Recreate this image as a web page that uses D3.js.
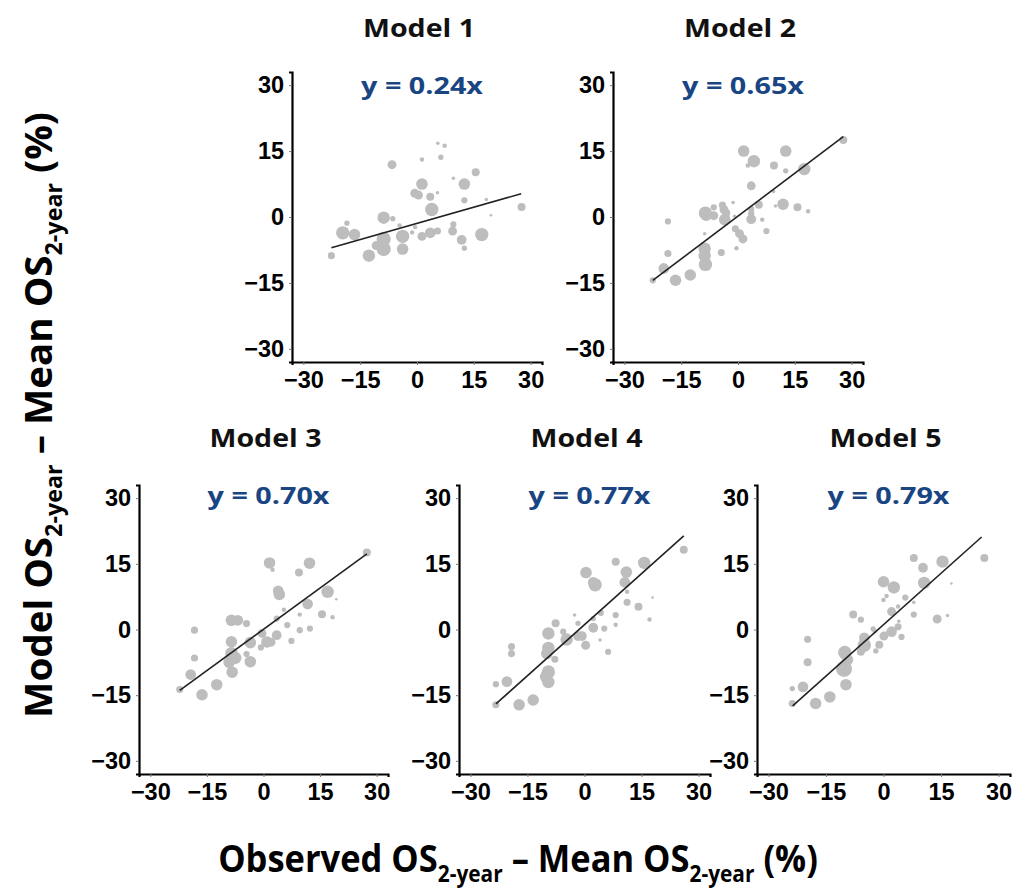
<!DOCTYPE html>
<html><head><meta charset="utf-8">
<script src="https://cdn.jsdelivr.net/npm/d3@7"></script>
<style>body{margin:0;background:#fff}</style></head>
<body><svg id="c" width="1022" height="891"></svg>
<script>
// ---------- data ----------
const modelNames = ["Model 1", "Model 2", "Model 3", "Model 4", "Model 5"];
const equations = ["y = 0.24x", "y = 0.65x", "y = 0.70x", "y = 0.77x", "y = 0.79x"];
const tickValues = [-30, -15, 0, 15, 30];
// fitted line drawn in each panel: slope, intercept and x extent
const lineSlopes = [0.245, 0.65, 0.628, 0.777, 0.782];
const lineIntercepts = [-1.45, 0.2, 0.04, 1.1, 1.1];
const lineXRanges = [[-22.6, 27.5], [-22.5, 27.8], [-22.2, 27.4], [-23.3, 26.1], [-23.7, 25.6]];
// points: [observed - mean, model - mean, relative weight]
const model1 = [[-22.6,-8.8,8],[-18.5,-1.4,6],[-19.6,-3.6,15],[-16.5,-4,13],[-12.7,-8.8,14],[-8.8,-0.15,14],[-6.4,-0.4,6],[-8.8,-5,16],[-8.8,-7.3,16],[-10.8,-6.5,10],[-6.6,11.9,10],[-4.6,-1.9,5],[-3.8,-4.4,15],[-3.8,-7.3,13],[-1.3,-3.5,5],[-0.5,-2.3,5],[-0.6,5.4,10],[0.4,5,10],[1.3,7.5,13],[1.3,-4.4,10],[1.3,13.1,5],[3.5,4.6,9],[3.9,1.7,15],[3.5,-3.6,12],[5.4,-3.2,8],[5.4,5.5,4],[5.5,16.8,4],[7.3,16.2,5],[6.3,13.6,6],[9.6,-1.7,7],[9.4,-3.2,10],[9.6,8.8,4],[11.8,-5.2,11],[12.5,7.5,13],[12.5,3.8,7],[12.5,-7.1,6],[15.5,10.2,9],[17.1,-4,15],[18.3,4,4],[19.5,0.4,3],[27.6,2.3,9]];
const model2 = [[-22.5,-14.4,7],[-19.6,-11.7,12],[-18.5,-1,7],[-18.5,-8.3,8],[-16.5,-14.4,13],[-12.6,-13.2,13],[-8.6,0.9,15],[-8.4,0.4,13],[-6.4,2.2,7],[-6.4,0.3,10],[-8.8,-3.8,4],[-8.8,-7.2,14],[-8.8,-8.8,14],[-8.6,-10.8,15],[-4.4,-8.1,8],[-4.1,2.7,8],[-3.7,1.7,10],[-3.5,-0.6,13],[-3.1,0.9,9],[-1.3,3.3,4],[-0.4,-7.1,5],[-0.7,-2.7,8],[0.4,-3.8,10],[1.3,-5,10],[-0.9,0.15,4],[1.5,15,13],[2.6,11.7,5],[4.2,12.7,14],[3.5,7.1,10],[3.5,1.8,7],[3.5,-0.5,11],[3.5,0.8,7],[5.5,2.8,9],[6.4,-0.6,5],[7.5,-3.2,7],[9.5,11.7,9],[9.9,2.5,4],[11.9,2.9,13],[12.6,10.5,6],[12.6,15,13],[15.7,2.2,9],[17.5,10.9,14],[18.5,1.3,5],[27.8,17.5,9],[9.4,5.8,4]];
const model3 = [[-22.2,-13.7,8],[-19.3,-10.3,12],[-18.3,-0.15,8],[-18.3,-6.5,8],[-16.3,-14.9,13],[-12.4,-12.6,13],[-8.5,2.1,13],[-6.8,2.1,12],[-4.5,1.35,8],[-8.5,-2.8,13],[-8.5,-5.4,14],[-9.1,-7.5,13],[-8.3,-9.75,13],[-7.5,-6.5,14],[-4.5,-5.6,7],[-3.5,-7.35,13],[-3.5,-3,13],[-0.4,-0.9,10],[-0.7,-4.1,7],[0.9,-2.85,13],[2.0,-2.9,10],[3.5,-1.3,11],[1.6,15.2,13],[2.4,13.65,5],[3.9,8.85,12],[4.2,8,13],[3.5,2.5,7],[5.4,4.5,5],[6.3,1,7],[7.4,-2.6,7],[9.4,13,9],[9.6,3.4,5],[9.6,-0.15,7],[11.7,5.8,12],[12.2,15.15,13],[12.3,0.2,7],[15.5,3.5,9],[17,8.6,14],[18.3,2.8,5],[19.3,6.9,3],[27.4,17.6,9]];
const model4 = [[-23.3,-17.2,8],[-23.3,-12.5,7],[-20.4,-11.9,12],[-19.2,-3.9,8],[-19.2,-5.5,8],[-17.2,-17.2,13],[-13.5,-16.1,13],[-9.5,-0.9,14],[-7.6,1.4,9],[-9.5,-4.2,14],[-9.9,-5.5,13],[-7.8,-6.8,8],[-9.5,-9.7,15],[-10.1,-10.8,14],[-9.5,-12,14],[-5.6,-0.5,7],[-4.7,-2.3,14],[-2.6,3.3,4],[-1.7,1.4,6],[-1.7,-1.5,11],[-0.7,-1.5,11],[0.3,-3.6,10],[0.4,13,13],[2.8,10.2,15],[2.3,10.8,12],[2.3,0.4,11],[2.3,2.5,6],[4.1,-2.4,4],[4.3,3.8,7],[5.2,0.2,7],[6.2,-5.1,7],[8.2,15.5,9],[8.2,3.3,7],[8.2,1.1,5],[11,13.1,13],[10.6,10.8,12],[11.2,8.6,5],[11.2,6.2,8],[14.2,5.2,9],[15.7,15.2,14],[17.1,2.3,5],[17.9,7.3,3],[26.1,18.2,9]];
const model5 = [[-23.8,-16.9,8],[-23.8,-13.5,6],[-21,-13.1,12],[-19.8,-2.25,8],[-19.8,-7.5,9],[-17.7,-16.9,13],[-14,-15.4,13],[-9.8,-12.6,13],[-10.1,-5.25,15],[-10.3,-9,18],[-9.4,-6.9,13],[-7.9,3.4,9],[-5.9,2.25,7],[-5.9,-5.1,9],[-5,-3.6,15],[-5,-1.9,12],[-2.7,0.15,6],[-2,-4.9,6],[-1.1,-3.5,9],[-2.3,-0.4,5],[0,10.9,13],[0,6.75,5],[0.1,-1.5,10],[0.8,7.65,5],[2.7,9.6,14],[2.1,4.1,10],[2.1,-0.5,12],[3.8,5.25,5],[3.8,0.6,8],[4.7,-1.7,7],[5.7,7.3,7],[4,1.9,4],[7.9,16.35,9],[7.9,3.4,7],[7.9,6.2,4],[10.3,14.1,11],[10.6,10.65,14],[14,2.4,10],[15.4,15.5,14],[16.7,3.2,4],[17.7,10.5,3],[26.3,16.35,9]];
const modelPoints = [model1, model2, model3, model4, model5];
const xTitle = ["Observed OS", "2-year", " \u2013 Mean OS", "2-year", " (%)"];
const yTitle = ["Model OS", "2-year", " \u2013 Mean OS", "2-year", " (%)"];

// ---------- layout ----------
const svg = d3.select("#c");
const panels = [
  {left: 292, right: 542, top: 72, bottom: 362, titleY: 37, eqY: 94},
  {left: 613, right: 863, top: 72, bottom: 362, titleY: 37, eqY: 94},
  {left: 139, right: 388, top: 485, bottom: 774, titleY: 447, eqY: 504},
  {left: 459, right: 710, top: 485, bottom: 774, titleY: 447, eqY: 504},
  {left: 757, right: 1010, top: 485, bottom: 774, titleY: 447, eqY: 504}
];
const calibri = "'Open Sans', 'Noto Sans', sans-serif";
const arial = "'Liberation Sans', Arial, sans-serif";
const rScale = d3.scaleLinear().domain([0, 18]).range([0, 8]);

function fitWidth(t, target) {
  return target / t.node().getComputedTextLength();
}
const probe = svg.append("text").attr("font-family", arial).attr("font-weight", "bold")
  .attr("font-size", 24).text("-30");
const tickSx = 34 / probe.node().getComputedTextLength();
probe.remove();

panels.forEach((p, i) => {
  const x = d3.scaleLinear().domain([-33, 33]).range([p.left, p.right]);
  const y = d3.scaleLinear().domain([-33, 33]).range([p.bottom, p.top]);
  const g = svg.append("g");

  g.append("g").selectAll("circle").data(modelPoints[i]).join("circle")
    .attr("cx", d => x(d[0])).attr("cy", d => y(d[1]))
    .attr("r", d => rScale(d[2]))
    .attr("fill", "#bdbdbd");

  const xr = lineXRanges[i];
  g.append("line")
    .attr("x1", x(xr[0])).attr("y1", y(lineSlopes[i] * xr[0] + lineIntercepts[i]))
    .attr("x2", x(xr[1])).attr("y2", y(lineSlopes[i] * xr[1] + lineIntercepts[i]))
    .attr("stroke", "#222").attr("stroke-width", 1.6);

  const ax = g.append("g").attr("transform", `translate(0,${p.bottom})`)
    .call(d3.axisBottom(x).tickValues(tickValues).tickSizeOuter(0).tickSize(3).tickPadding(6).tickFormat(d3.format("d")));
  const ay = g.append("g").attr("transform", `translate(${p.left},0)`)
    .call(d3.axisLeft(y).tickValues(tickValues).tickSizeOuter(0).tickSize(3).tickPadding(5).tickFormat(d3.format("d")));
  [ax, ay].forEach(a => {
    a.attr("font-size", null).attr("font-family", null);
    a.select(".domain").attr("stroke", "#000").attr("stroke-width", 2.2);
    a.selectAll(".tick line").attr("stroke", "#777").attr("stroke-width", 1);
    a.selectAll(".tick text")
      .style("font-family", arial).style("font-weight", "bold").style("font-size", "24px")
      .attr("fill", "#000").attr("transform", `scale(${tickSx},1)`);
  });

  const cx = (p.left + p.right) / 2 + 2;
  const t = svg.append("text").attr("text-anchor", "middle")
    .attr("font-family", calibri).attr("font-weight", "bold").attr("font-size", 25)
    .attr("fill", "#111").text(modelNames[i]);
  t.attr("transform", `translate(${cx},${p.titleY}) scale(${fitWidth(t, 112)},1)`);

  const e = svg.append("text").attr("text-anchor", "middle")
    .attr("font-family", calibri).attr("font-weight", "bold").attr("font-size", 24)
    .attr("fill", "#1a4583").text(equations[i]);
  e.attr("transform", `translate(${cx + 3},${p.eqY}) scale(${fitWidth(e, 122)},1)`);
});

function axisTitle(parts, transformBase, target) {
  const t = svg.append("text").attr("text-anchor", "middle")
    .attr("font-family", calibri).attr("font-weight", "bold").attr("font-size", 38).attr("fill", "#000");
  parts.forEach((s, k) => {
    const sub = k % 2 === 1;
    t.append("tspan").text(s)
      .attr("font-size", sub ? 23 : 38)
      .attr("dy", sub ? 10 : (k === 0 ? 0 : -10));
  });
  t.attr("transform", `${transformBase} scale(${fitWidth(t, target)},1)`);
}
axisTitle(xTitle, "translate(518,872)", 600);
axisTitle(yTitle, "translate(52,415) rotate(-90)", 606);
</script></body></html>
